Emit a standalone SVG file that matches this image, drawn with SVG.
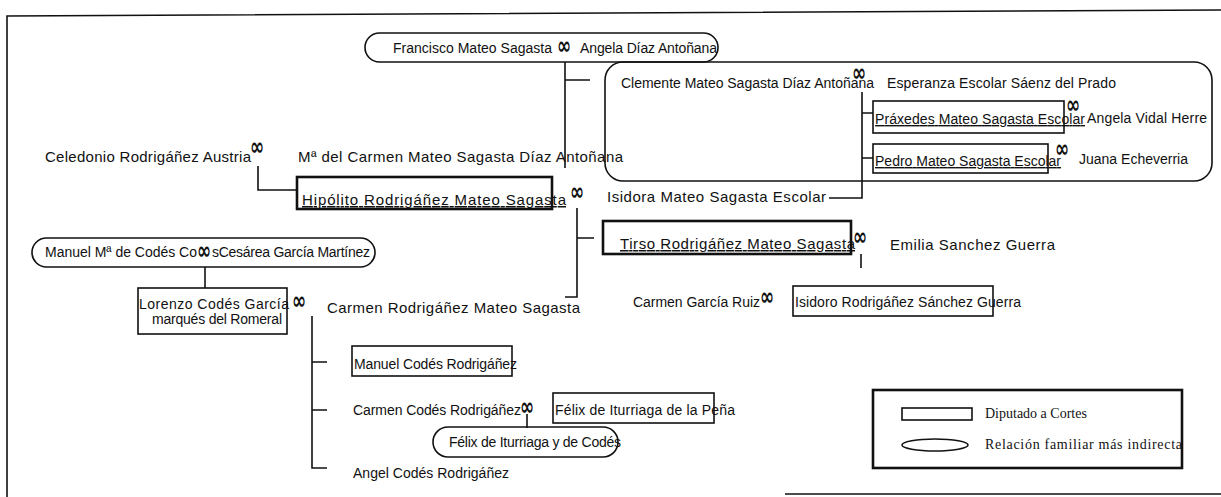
<svg xmlns="http://www.w3.org/2000/svg" width="1221" height="497" viewBox="0 0 1221 497">
<style>
text{font-family:"Liberation Sans",Arial,sans-serif;font-size:14px;fill:#111}
.big{font-size:15px}
.m{font-family:"DejaVu Sans",sans-serif;font-weight:bold;font-size:17px}
.u{text-decoration:underline}
.lg{font-family:"Liberation Serif","Times New Roman",serif;font-size:14px}
.ln{fill:none;stroke:#111;stroke-width:1.6}
.box{fill:none;stroke:#111;stroke-width:1.6}
.thick{fill:none;stroke:#111;stroke-width:2.6}
</style>
<rect width="1221" height="497" fill="#fff"/>
<g id="frame">
<path class="ln" d="M7,497 V16 L1221,10"/>
<path class="ln" d="M785,494 H1221"/>
</g>
<g id="connectors">
<path class="ln" d="M565,62 V168 M565,80 H590"/>
<path class="ln" d="M862,92 V198 H829 M862,113 H873 M862,158 H873"/>
<path class="ln" d="M258,166 V190 H297"/>
<path class="ln" d="M577,208 V297 H565 M577,238 H594"/>
<path class="ln" d="M861,254 V268"/>
<path class="ln" d="M205,267 V288"/>
<path class="ln" d="M312,316 V468 H327 M312,362 H327 M312,410 H327"/>
<path class="ln" d="M527,414 V428"/>
</g>
<g id="francisco">
<rect class="box" x="365" y="33" width="353" height="29" rx="14.5"/>
<text x="393" y="53" textLength="159">Francisco Mateo Sagasta</text>
<text class="m" transform="translate(557,54) scale(1,1.45)">∞</text>
<text x="580" y="53" textLength="137">Angela Díaz Antoñana</text>
</g>
<g id="clemente">
<rect class="box" x="605" y="62" width="607" height="119" rx="18"/>
<text x="621" y="88" textLength="253">Clemente Mateo Sagasta Díaz Antoñana</text>
<text class="m" transform="translate(852,81) scale(1,1.45)">∞</text>
<text x="887" y="88" textLength="229">Esperanza Escolar Sáenz del Prado</text>
</g>
<g id="praxedes">
<rect class="box" x="873" y="101" width="191" height="32"/>
<text class="u" x="875" y="124" textLength="210">Práxedes Mateo Sagasta Escolar</text>
<text class="m" transform="translate(1066,113) scale(1,1.45)">∞</text>
<text x="1087" y="123" textLength="120">Angela Vidal Herre</text>
</g>
<g id="pedro">
<rect class="box" x="873" y="144" width="175" height="29"/>
<text class="u" x="875" y="166" textLength="186">Pedro Mateo Sagasta Escolar</text>
<text class="m" transform="translate(1055,157) scale(1,1.45)">∞</text>
<text x="1079" y="164" textLength="109">Juana Echeverria</text>
</g>
<g id="celedonio">
<text class="big" x="45" y="162" textLength="206">Celedonio Rodrigáñez Austria</text>
<text class="m" transform="translate(250,155) scale(1,1.45)">∞</text>
</g>
<g id="carmen-mateo">
<text class="big" x="298" y="162" textLength="325">Mª del Carmen Mateo Sagasta Díaz Antoñana</text>
</g>
<g id="hipolito">
<rect class="thick" x="297" y="177" width="255" height="32"/>
<text class="big u" x="302" y="205" textLength="264">Hipólito Rodrigáñez Mateo Sagasta</text>
<text class="m" transform="translate(570,200) scale(1,1.45)">∞</text>
</g>
<g id="isidora">
<text class="big" x="607" y="202" textLength="219">Isidora Mateo Sagasta Escolar</text>
</g>
<g id="tirso">
<rect class="thick" x="603" y="221" width="248" height="33"/>
<text class="big u" x="620" y="249" textLength="235">Tirso Rodrigáñez Mateo Sagasta</text>
<text class="m" transform="translate(853,245) scale(1,1.45)">∞</text>
</g>
<g id="emilia">
<text class="big" x="890" y="250" textLength="165">Emilia Sanchez Guerra</text>
</g>
<g id="manuel-codes-cos">
<rect class="box" x="32" y="238" width="343" height="29" rx="14.5"/>
<text x="45" y="257" textLength="152">Manuel Mª de Codés Co</text>
<text class="m" transform="translate(197,259) scale(1,1.45)">∞</text>
<text x="212" y="257" textLength="158">sCesárea García Martínez</text>
</g>
<g id="lorenzo">
<rect class="box" x="138" y="288" width="149" height="46"/>
<text x="139" y="309" font-size="13.5" textLength="150">Lorenzo Codés  García</text>
<text x="152" y="324" font-size="12.5" textLength="130">marqués del Romeral</text>
<text class="m" transform="translate(292,309) scale(1,1.45)">∞</text>
</g>
<g id="carmen-rodriganez">
<text class="big" x="327" y="313" textLength="253">Carmen Rodrigáñez Mateo Sagasta</text>
</g>
<g id="carmen-garcia">
<text x="633" y="307" textLength="127">Carmen García Ruiz</text>
<text class="m" transform="translate(760,305) scale(1,1.45)">∞</text>
</g>
<g id="isidoro">
<rect class="box" x="793" y="286" width="200" height="30"/>
<text x="795" y="307" textLength="226">Isidoro Rodrigáñez Sánchez Guerra</text>
</g>
<g id="manuel-codes-rodriganez">
<rect class="box" x="352" y="346" width="160" height="30"/>
<text x="354" y="369" textLength="163">Manuel Codés Rodrigáñez</text>
</g>
<g id="carmen-codes">
<text x="353" y="415" textLength="168">Carmen Codés Rodrigáñez</text>
<text class="m" transform="translate(520,415) scale(1,1.45)">∞</text>
</g>
<g id="felix-pena">
<rect class="box" x="553" y="393" width="161" height="30"/>
<text x="555" y="415" textLength="180">Félix de Iturriaga de la Peña</text>
</g>
<g id="felix-codes">
<rect class="box" x="433" y="427" width="185" height="30" rx="15"/>
<text x="449" y="447" textLength="172">Félix de Iturriaga y de Codés</text>
</g>
<g id="angel">
<text x="353" y="478" textLength="156">Angel Codés Rodrigáñez</text>
</g>
<g id="legend">
<rect class="thick" x="873" y="390" width="309" height="78"/>
<rect class="box" x="902" y="408" width="70" height="12"/>
<text class="lg" x="985" y="418">Diputado a Cortes</text>
<ellipse class="box" cx="935" cy="445" rx="33" ry="6"/>
<text class="lg" x="985" y="449" textLength="197">Relación familiar más indirecta</text>
</g>
</svg>
